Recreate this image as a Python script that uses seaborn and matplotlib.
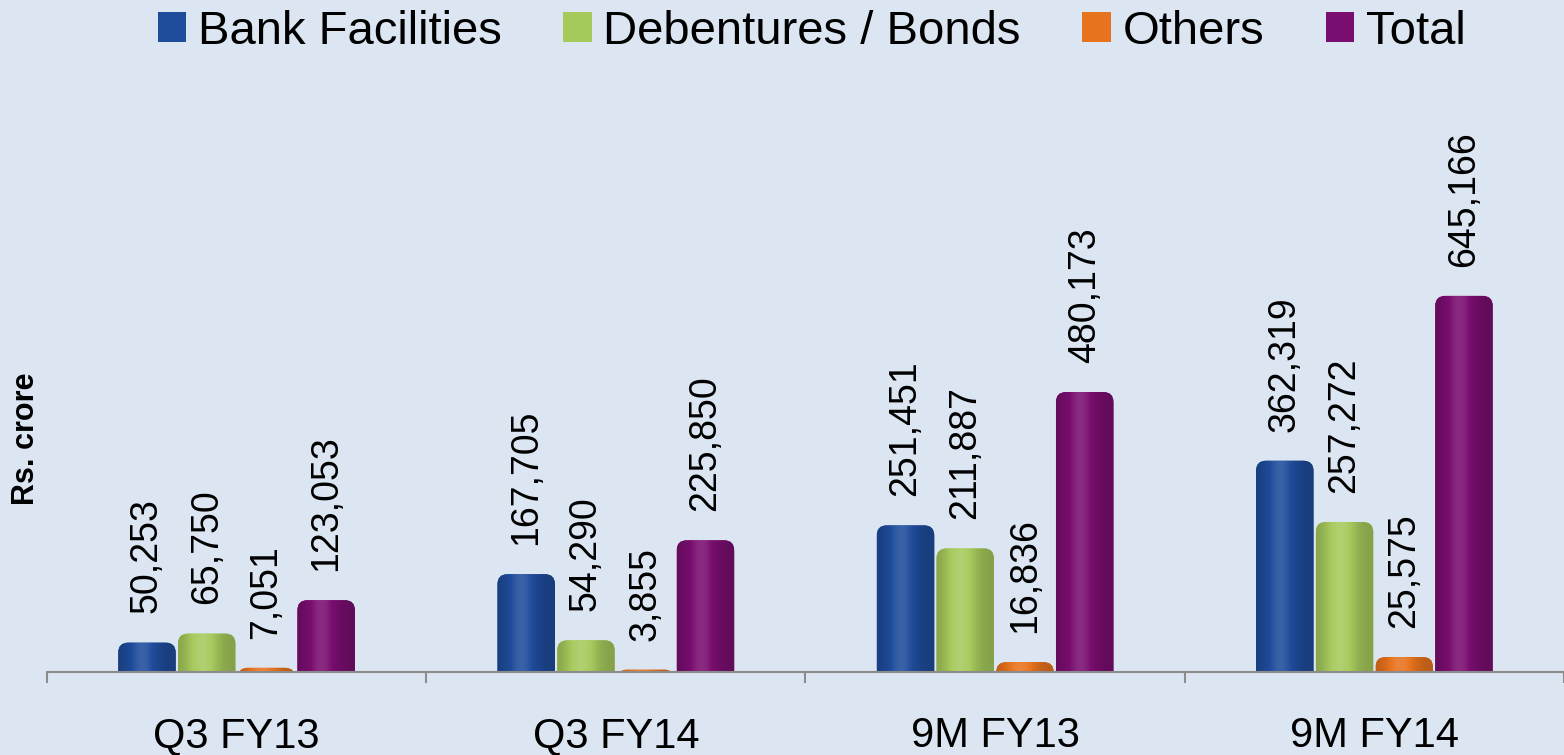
import numpy as np
import pandas as pd
import matplotlib
matplotlib.use("Agg")
import matplotlib.pyplot as plt
from matplotlib.patches import FancyBboxPatch, Patch
from matplotlib.colors import to_rgb
import seaborn as sns

periods = ["Q3 FY13", "Q3 FY14", "9M FY13", "9M FY14"]
series = ["Bank Facilities", "Debentures / Bonds", "Others", "Total"]
bank = [50253, 167705, 251451, 362319]
debentures = [65750, 54290, 211887, 257272]
others = [7051, 3855, 16836, 25575]
total = [123053, 225850, 480173, 645166]
colors = ["#1F4C9B", "#A6C95C", "#E8731E", "#7A0E70"]

rows = []
for s, vals in zip(series, [bank, debentures, others, total]):
    for p, v in zip(periods, vals):
        rows.append({"Period": p, "Series": s, "Value": v})
df = pd.DataFrame(rows)

sns.set_style("white")
plt.rcParams["font.family"] = ["Liberation Sans", "DejaVu Sans"]
plt.rcParams["text.color"] = "black"
plt.rcParams["xtick.color"] = "black"
plt.rcParams["axes.labelcolor"] = "black"
bg = "#DCE6F2"
fig = plt.figure(figsize=(15.64, 7.55), dpi=100, facecolor=bg)
ax = fig.add_axes([0.030, 0.110, 0.970, 0.772], facecolor=bg)

sns.barplot(data=df, x="Period", y="Value", hue="Series", order=periods,
            hue_order=series, palette=colors, width=0.63, saturation=1,
            ax=ax, legend=False)

ax.set_ylim(0, 1000000)
ax.set_xlim(-0.5, 3.5)

# data labels
for cont in ax.containers:
    ax.bar_label(cont, labels=[f"{v:,.0f}" for v in cont.datavalues],
                 rotation=90, padding=21, fontsize=27, color="black")

# rounded tops with soft cylindrical shading
fig.canvas.draw()
bb = ax.get_window_extent()
x_per_px = (ax.get_xlim()[1] - ax.get_xlim()[0]) / bb.width
y_per_px = (ax.get_ylim()[1] - ax.get_ylim()[0]) / bb.height
aspect = y_per_px / x_per_px
r_px = 10
t = np.linspace(0, 1, 60)
shade = 0.80 + 0.30 * np.exp(-((t - 0.42) / 0.28) ** 2)
for patch in list(ax.patches):
    x, y = patch.get_x(), patch.get_y()
    w, h = patch.get_width(), patch.get_height()
    fc = to_rgb(patch.get_facecolor())
    patch.set_visible(False)
    ext = r_px * y_per_px
    box = FancyBboxPatch((x + 0.003, y - ext), w - 0.006, h + ext,
                         boxstyle=f"round,pad=0,rounding_size={r_px * x_per_px}",
                         mutation_aspect=aspect, facecolor=fc, edgecolor="none",
                         zorder=2)
    ax.add_patch(box)
    base = np.array(fc)
    grad = np.empty((1, len(t), 3))
    for i, s in enumerate(shade):
        if s <= 1:
            grad[0, i] = base * s
        else:
            grad[0, i] = base + (1 - base) * (s - 1) * 1.2
    grad = np.clip(grad, 0, 1)
    im = ax.imshow(grad, extent=(x + 0.003, x + w - 0.003, y - ext, h),
                   aspect="auto", interpolation="bilinear", zorder=2.1)
    im.set_clip_path(box)

ax.set_ylim(0, 1000000)
ax.set_xlim(-0.5, 3.5)

for side in ["left", "right", "top"]:
    ax.spines[side].set_visible(False)
ax.spines["bottom"].set_color("#8C8C8C")
ax.spines["bottom"].set_linewidth(1.5)
ax.spines["bottom"].set_zorder(3)

ax.set_xticks(range(len(periods)))
ax.set_xticklabels(periods, fontsize=30)
ax.tick_params(axis="x", which="major", length=0, pad=32, bottom=True)
ax.set_xticks([-0.5, 0.5, 1.5, 2.5, 3.5], minor=True)
ax.tick_params(axis="x", which="minor", length=8, width=1.5, color="#8C8C8C",
               direction="out", bottom=True)
ax.set_yticks([])
ax.set_xlabel("")
ax.set_ylabel("Rs. crore", fontsize=22, fontweight="bold")
ax.yaxis.set_label_coords(-0.0042, 0.40)

handles = [Patch(facecolor=c, edgecolor="none") for c in colors]
fig.legend(handles, series, loc="center", bbox_to_anchor=(0.519, 0.958), ncol=4,
           frameon=False, fontsize=34, handlelength=0.6, handleheight=0.6,
           handletextpad=0.25, columnspacing=1.3)

fig.savefig("out.png", dpi=100, facecolor=bg)
